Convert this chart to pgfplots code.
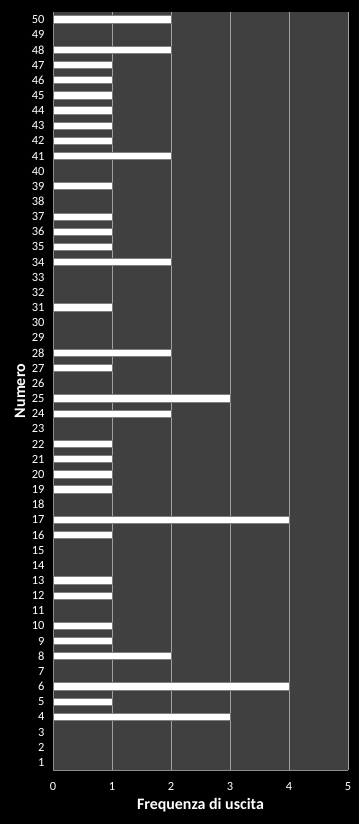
\documentclass[border=0pt]{standalone}
\usepackage{fontspec}
\setmainfont{Carlito}
\usepackage{pgfplots}
\pgfplotsset{compat=1.18}
\usepackage{pgfplotstable}
\definecolor{plotbg}{HTML}{404040}
\definecolor{gridc}{HTML}{A0A0A0}
\definecolor{axisc}{HTML}{8C8C8C}
\pgfplotstableread{
num freq
50 2
48 2
47 1
46 1
45 1
44 1
43 1
42 1
41 2
39 1
37 1
36 1
35 1
34 2
31 1
28 2
27 1
25 3
24 2
22 1
21 1
20 1
19 1
17 4
16 1
13 1
12 1
10 1
9 1
8 2
6 4
5 1
4 3
}\datatable
\begin{document}
\begin{tikzpicture}
\fill[black] (0,0) rectangle (359bp,824bp);
\begin{axis}[
  at={(53bp,54bp)}, anchor=south west,
  scale only axis, width=295bp, height=758bp,
  xmin=0, xmax=5, ymin=0.5, ymax=50.5,
  xtick={0,1,2,3,4,5}, ytick={1,2,...,50},
  major tick length=0pt,
  axis background/.style={fill=plotbg},
  axis x line*=bottom, axis y line*=left,
  axis line style={draw=axisc, line width=0.8bp, -},
  xmajorgrids, major grid style={draw=gridc, line width=0.8bp},
  tick label style={text=white, font=\fontsize{12.5}{13}\selectfont},
  /pgf/number format/assume math mode=true,
  xticklabel style={yshift=-9bp},
  yticklabel style={xshift=-5bp},
  xlabel={Frequenza di uscita}, ylabel={Numero},
  label style={text=white, font=\fontsize{16}{17}\selectfont\bfseries},
  xlabel style={at={(axis description cs:0.5,0)}, anchor=center, yshift=-35bp},
  ylabel style={at={(axis description cs:-0.112,0.5)}, anchor=center},
  xbar, bar width=0.48,
  clip=false,
]
\addplot[draw=white!50!black, line width=1bp, fill=white] table[x=freq, y=num] {\datatable};
\end{axis}
\end{tikzpicture}
\end{document}
